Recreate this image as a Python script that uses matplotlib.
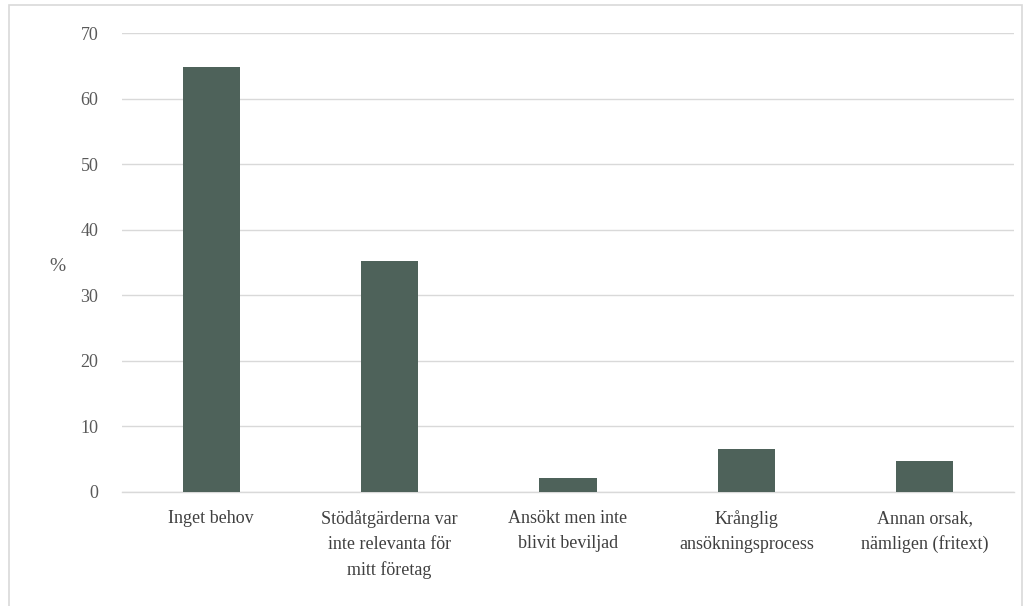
import matplotlib.pyplot as plt
from matplotlib.patches import Rectangle

# Data
categories = [
    "Inget behov",
    "Stödåtgärderna var\ninte relevanta för\nmitt företag",
    "Ansökt men inte\nblivit beviljad",
    "Krånglig\nansökningsprocess",
    "Annan orsak,\nnämligen (fritext)",
]
values = [64.8, 35.2, 2.2, 6.5, 4.7]
yticks = [0, 10, 20, 30, 40, 50, 60, 70]

plt.rcParams["font.family"] = ["Liberation Serif", "DejaVu Serif"]

fig = plt.figure(figsize=(10.32, 6.06), dpi=100)
ax = fig.add_axes([122 / 1032, 1 - 492 / 606, 892 / 1032, 459 / 606])

# Outer chart border
fig.patches.append(Rectangle((9 / 1032, -0.01), 1013 / 1032, 1 - 5 / 606 + 0.01,
                             transform=fig.transFigure, fill=False,
                             edgecolor="#d9d9d9", linewidth=1.2))

x = range(len(categories))
ax.bar(x, values, width=0.32, color="#4e625a", zorder=3)

ax.set_xlim(-0.5, len(categories) - 0.5)
ax.set_ylim(0, 70)
ax.set_yticks(yticks)
ax.set_xticks(list(x))
ax.set_xticklabels(categories, fontsize=13, color="#404040", linespacing=1.6)
ax.tick_params(axis="y", labelsize=13, labelcolor="#595959", length=0, pad=17)
ax.tick_params(axis="x", length=0, pad=13)

ax.grid(axis="y", color="#d9d9d9", linewidth=1, zorder=0)
for s in ["top", "right", "left"]:
    ax.spines[s].set_visible(False)
ax.spines["bottom"].set_color("#d9d9d9")
ax.spines["bottom"].set_linewidth(1)

fig.text(57 / 1032, 1 - 267 / 606, "%", fontsize=14, color="#595959",
         ha="center", va="center")

fig.savefig("out.png", dpi=100)
plt.close(fig)
